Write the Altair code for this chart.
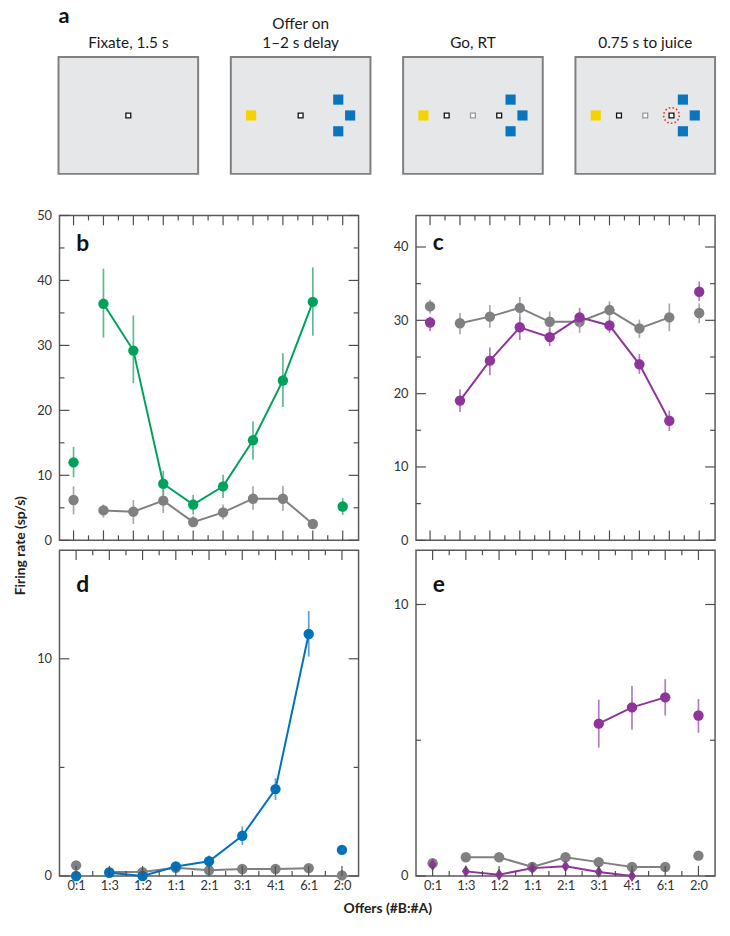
import altair as alt
import pandas as pd

FONT = "Lato"

# ---------------- data ----------------
OFFERS = ["0:1", "1:3", "1:2", "1:1", "2:1", "3:1", "4:1", "6:1", "2:0"]
N_TOP = 10  # offer types of the upper session (no labels)

# panel b
B_GREEN    = [12.0, 36.4, 29.2, 8.7, 5.5, 8.3, 15.4, 24.6, 36.7, 5.2]
B_GREEN_LO = [9.7, 31.2, 24.2, 6.9, 4.0, 6.5, 12.4, 20.5, 31.5, 3.9]
B_GREEN_HI = [14.4, 41.8, 34.6, 10.7, 7.0, 10.1, 18.3, 28.8, 42.0, 6.5]
B_GRAY     = [6.2, 4.6, 4.4, 6.1, 2.8, 4.3, 6.4, 6.4, 2.5, None]
B_GRAY_LO  = [4.0, 3.5, 2.5, 4.2, 2.1, 3.2, 4.7, 4.5, 1.9, None]
B_GRAY_HI  = [8.3, 5.5, 6.2, 8.0, 3.7, 5.5, 8.3, 8.4, 3.2, None]

# panel c
C_PURPLE    = [29.7, 19.05, 24.5, 29.05, 27.7, 30.4, 29.3, 24.0, 16.3, 33.9]
C_PURPLE_LO = [28.5, 17.5, 22.5, 27.3, 26.5, 29.0, 28.3, 22.7, 14.9, 32.6]
C_PURPLE_HI = [30.5, 20.6, 26.3, 30.5, 29.0, 31.7, 30.3, 25.4, 17.7, 35.3]
C_GRAY      = [31.9, 29.6, 30.5, 31.7, 29.8, 29.8, 31.4, 28.9, 30.4, 31.0]
C_GRAY_LO   = [30.9, 28.1, 29.0, 30.1, 28.3, 28.3, 30.3, 27.6, 28.5, 29.6]
C_GRAY_HI   = [32.8, 31.0, 32.1, 33.2, 31.2, 31.2, 32.6, 30.1, 32.3, 32.3]

# panel d
D_BLUE    = [0.0, 0.15, 0.0, 0.44, 0.68, 1.85, 4.0, 11.14, 1.2]
D_BLUE_LO = [0.0, 0.05, 0.0, 0.26, 0.41, 1.43, 3.5, 10.1, 1.1]
D_BLUE_HI = [0.0, 0.25, 0.05, 0.64, 0.94, 2.28, 4.5, 12.2, 1.3]
D_GRAY    = [0.49, 0.18, 0.18, 0.38, 0.26, 0.32, 0.32, 0.36, 0.03]
D_GRAY_LO = [0.40, 0.10, 0.10, 0.28, 0.17, 0.22, 0.22, 0.26, 0.0]
D_GRAY_HI = [0.58, 0.26, 0.26, 0.48, 0.35, 0.42, 0.42, 0.46, 0.08]

# panel e
E_PURPLE    = [None, None, None, None, None, 5.61, 6.21, 6.58, 5.91]
E_PURPLE_LO = [None, None, None, None, None, 4.73, 5.39, 5.91, 5.28]
E_PURPLE_HI = [None, None, None, None, None, 6.49, 7.0, 7.25, 6.52]
E_DIAMOND    = [0.41, 0.17, 0.05, 0.29, 0.36, 0.15, 0.0, None, None]
E_DIAMOND_LO = [0.30, 0.08, 0.0, 0.19, 0.25, 0.06, 0.0, None, None]
E_DIAMOND_HI = [0.52, 0.26, 0.12, 0.39, 0.47, 0.24, 0.05, None, None]
E_GRAY    = [0.47, 0.69, 0.69, 0.33, 0.69, 0.51, 0.33, 0.33, 0.75]
E_GRAY_LO = [0.38, 0.60, 0.60, 0.24, 0.60, 0.42, 0.24, 0.24, 0.66]
E_GRAY_HI = [0.56, 0.78, 0.78, 0.42, 0.78, 0.60, 0.42, 0.42, 0.84]

# panel a: task schematic, stimulus positions relative to screen centre (deg)
FRAME_TITLES = [["Fixate, 1.5 s"], ["Offer on", "1\u20132 s delay"], ["Go, RT"],
                ["0.75 s to juice"]]
STIM_FRAME = [0,
              1, 1, 1, 1, 1,
              2, 2, 2, 2, 2, 2, 2,
              3, 3, 3, 3, 3, 3, 3, 3]
STIM_KIND = ["fix",
             "juiceA", "fix", "juiceB", "juiceB", "juiceB",
             "juiceA", "fix", "dim", "fix", "juiceB", "juiceB", "juiceB",
             "juiceA", "fix", "dim", "fix", "juiceB", "juiceB", "juiceB", "ring"]
STIM_X = [0.0,
          -10.0, 0.0, 7.6, 10.0, 7.6,
          -10.0, -5.3, 0.0, 5.3, 7.6, 10.0, 7.6,
          -10.0, -5.3, 0.0, 5.3, 7.6, 10.0, 7.6, 5.3]
STIM_Y = [0.0,
          0.0, 0.0, 3.2, 0.0, -3.2,
          0.0, 0.0, 0.0, 0.0, 3.2, 0.0, -3.2,
          0.0, 0.0, 0.0, 0.0, 3.2, 0.0, -3.2, 0.0]

# ---------------- styles / layout ----------------
GREEN, GREEN_ERR = "#00a15b", "#5dbb8d"
PURPLE, PURPLE_ERR = "#8e349a", "#b07cbd"
BLUE, BLUE_ERR = "#0071ba", "#5d9fd2"
GRAY, GRAY_ERR = "#808082", "#a8a8a8"
TICK = "#4d4d4d"
FRAME = "#5a5a5a"
TL, TS = 10, 5  # tick lengths
DIAMOND = "M0,-1L0.65,0L0,1L-0.65,0Z"
W, H1, H2, HA = 302, 328, 329, 150
FRAME_CENTER = [0.0, 34.8, 69.6, 104.4]   # schematic units (5 px each)
BOX_HW, BOX_HH = 14.1, 11.8
TITLE_LH = 19  # px
TITLE_FS = 15.5


def series_df(vals, lo, hi):
    n = len(vals)
    rows = []
    for i, v in enumerate(vals):
        if v is None:
            continue
        rows.append(dict(idx=i, val=v, lo=lo[i], hi=hi[i], line=(i != 0 and i != n - 1)))
    return pd.DataFrame(rows)


def panel(series, ncat, xleft, ydom, ymajor, yminor, H, letter, letter_y,
          labels=None, ytitle=None, xtitle=None):
    xs = alt.Scale(domain=[-xleft, ncat - xleft], nice=False, zero=False)
    ys = alt.Scale(domain=ydom, nice=False, zero=False)
    ykw = dict(values=ymajor, ticks=False, domain=False, grid=False, labelPadding=8,
               labelFontSize=13, labelColor="#333333", labelFont=FONT, format="d")
    if ytitle:
        ykw.update(title=ytitle, titleX=-32, titleY=H + 5, titleAngle=270,
                   titleAlign="center", titleBaseline="bottom", titleFont=FONT,
                   titleFontSize=14, titleFontWeight="bold", titleColor="#222222")
    else:
        ykw.update(title=None)
    yaxis = alt.Axis(**ykw)
    if labels:
        arr = "[" + ",".join("'%s'" % s for s in labels) + "]"
        xkw = dict(values=list(range(ncat)), labelExpr=arr + "[datum.value]", ticks=False,
                   domain=False, grid=False, labelPadding=4, labelFontSize=13,
                   labelColor="#333333", labelFont=FONT, labelFlush=False)
        if xtitle:
            xkw.update(title=xtitle, titleX=W + 29, titleY=26, titleAlign="center",
                       titleBaseline="top", titleFont=FONT, titleFontSize=14,
                       titleFontWeight="bold", titleColor="#222222")
        else:
            xkw.update(title=None)
        xaxis = alt.Axis(**xkw)
    else:
        xaxis = None

    def X():
        return alt.X("idx:Q", scale=xs, axis=xaxis)

    def Y(f):
        return alt.Y(f + ":Q", scale=ys, axis=yaxis)

    layers = []
    for vals, lo, hi, col, ecol, shape, size in series:
        df = series_df(vals, lo, hi)
        base = alt.Chart(df)
        layers.append(base.mark_rule(color=ecol, strokeWidth=1.7).encode(
            x=X(), y=Y("lo"), y2="hi:Q"))
        layers.append(base.transform_filter("datum.line").mark_line(
            color=col, strokeWidth=2).encode(x=X(), y=Y("val")))
        layers.append(base.mark_point(filled=True, opacity=1, color=col, shape=shape,
                                      size=size).encode(x=X(), y=Y("val")))

    ymaj = alt.Chart(pd.DataFrame({"val": ymajor}))
    ymin = alt.Chart(pd.DataFrame({"val": yminor}))
    xmaj = alt.Chart(pd.DataFrame({"idx": list(range(ncat))}))
    xmin = alt.Chart(pd.DataFrame({"idx": [i + 0.5 for i in range(ncat - 1)]}))
    rk = dict(color=TICK, strokeWidth=1.2)
    layers += [
        ymaj.mark_rule(**rk).encode(y=Y("val"), x=alt.value(0), x2=alt.value(TL)),
        ymaj.mark_rule(**rk).encode(y=Y("val"), x=alt.value(W - TL), x2=alt.value(W)),
        ymin.mark_rule(**rk).encode(y=Y("val"), x=alt.value(0), x2=alt.value(TS)),
        ymin.mark_rule(**rk).encode(y=Y("val"), x=alt.value(W - TS), x2=alt.value(W)),
        xmaj.mark_rule(**rk).encode(x=X(), y=alt.value(0), y2=alt.value(TL)),
        xmaj.mark_rule(**rk).encode(x=X(), y=alt.value(H - TL), y2=alt.value(H)),
        xmin.mark_rule(**rk).encode(x=X(), y=alt.value(0), y2=alt.value(TS)),
        xmin.mark_rule(**rk).encode(x=X(), y=alt.value(H - TS), y2=alt.value(H)),
    ]
    layers.append(alt.Chart(pd.DataFrame({"t": [letter]})).mark_text(
        align="left", baseline="alphabetic", font=FONT, fontSize=23, fontWeight="bold",
        color="#111111").encode(text="t:N", x=alt.value(17), y=alt.value(letter_y)))
    return alt.layer(*layers).properties(
        width=W, height=H,
        view=alt.ViewBackground(fill="white", stroke=FRAME, strokeWidth=1.5))


pb = panel([(B_GRAY, B_GRAY_LO, B_GRAY_HI, GRAY, GRAY_ERR, "circle", 110),
            (B_GREEN, B_GREEN_LO, B_GREEN_HI, GREEN, GREEN_ERR, "circle", 110)],
           N_TOP, 0.47, [0, 50], [0, 10, 20, 30, 40, 50], [5, 15, 25, 35, 45],
           H1, "b", 36, ytitle="Firing rate (sp/s)")
pc = panel([(C_GRAY, C_GRAY_LO, C_GRAY_HI, GRAY, GRAY_ERR, "circle", 110),
            (C_PURPLE, C_PURPLE_LO, C_PURPLE_HI, PURPLE, PURPLE_ERR, "circle", 110)],
           N_TOP, 0.47, [0, 44.3], [0, 10, 20, 30, 40], [5, 15, 25, 35],
           H1, "c", 35)
pd_ = panel([(D_GRAY, D_GRAY_LO, D_GRAY_HI, GRAY, GRAY_ERR, "circle", 110),
             (D_BLUE, D_BLUE_LO, D_BLUE_HI, BLUE, BLUE_ERR, "circle", 110)],
            len(OFFERS), 0.5, [0, 15], [0, 10], [5],
            H2, "d", 42, labels=OFFERS, xtitle="Offers (#B:#A)")
pe = panel([(E_GRAY, E_GRAY_LO, E_GRAY_HI, GRAY, GRAY_ERR, "circle", 110),
            (E_DIAMOND, E_DIAMOND_LO, E_DIAMOND_HI, PURPLE, PURPLE_ERR, DIAMOND, 150),
            (E_PURPLE, E_PURPLE_LO, E_PURPLE_HI, PURPLE, PURPLE_ERR, "circle", 110)],
           len(OFFERS), 0.5, [0, 12], [0, 10], [5],
           H2, "e", 42, labels=OFFERS)

# ---------------- panel a (two halves, frames 0-1 and 2-3) ----------------
frames = pd.DataFrame({"frame": list(range(4)), "cx": FRAME_CENTER})
frames["x0"] = frames["cx"] - BOX_HW
frames["x1"] = frames["cx"] + BOX_HW
frames["y0"] = -BOX_HH
frames["y1"] = BOX_HH

title_rows = []
for f, lines in enumerate(FRAME_TITLES):
    n = len(lines)
    for k, line in enumerate(lines):
        title_rows.append(dict(frame=f, cx=FRAME_CENTER[f], text=line,
                               ty=BOX_HH + 1.2 + (n - 1 - k) * TITLE_LH / 5.0))
titles = pd.DataFrame(title_rows)

stim = pd.DataFrame({"frame": STIM_FRAME, "kind": STIM_KIND, "dx": STIM_X, "y": STIM_Y})
stim["x"] = [FRAME_CENTER[f] + dx for f, dx in zip(STIM_FRAME, STIM_X)]


def half(frame_ids, xdom):
    sx = alt.Scale(domain=xdom, nice=False, zero=False)
    sy = alt.Scale(domain=[-18.2, 11.8], nice=False, zero=False)
    sel = alt.FieldOneOfPredicate(field="frame", oneOf=frame_ids)
    fr = alt.Chart(frames).transform_filter(sel)
    tt = alt.Chart(titles).transform_filter(sel)
    st = alt.Chart(stim).transform_filter(sel)
    enc = dict(x=alt.X("x:Q", scale=sx, axis=None), y=alt.Y("y:Q", scale=sy, axis=None))
    layers = [
        fr.mark_rect(fill="#e6e7e8", stroke="#808080", strokeWidth=2).encode(
            x=alt.X("x0:Q", scale=sx, axis=None), x2="x1:Q",
            y=alt.Y("y0:Q", scale=sy, axis=None), y2="y1:Q"),
        tt.mark_text(align="center", baseline="bottom", font=FONT, fontSize=TITLE_FS,
                     color="#1a1a1a").encode(
            x=alt.X("cx:Q", scale=sx, axis=None), y=alt.Y("ty:Q", scale=sy, axis=None),
            text="text:N"),
        st.transform_filter(alt.datum.kind == "juiceA").mark_square(
            size=105, color="#f6d200", opacity=1).encode(**enc),
        st.transform_filter(alt.datum.kind == "juiceB").mark_square(
            size=105, color="#0a74bd", opacity=1).encode(**enc),
        st.transform_filter(alt.datum.kind == "fix").mark_point(
            shape="square", size=24, fill="white", stroke="#111111", strokeWidth=1.3,
            opacity=1).encode(**enc),
        st.transform_filter(alt.datum.kind == "dim").mark_point(
            shape="square", size=24, fill="white", stroke="#9a9a9a", strokeWidth=1.3,
            opacity=1).encode(**enc),
        st.transform_filter(alt.datum.kind == "ring").mark_point(
            shape="circle", size=250, filled=False, stroke="#e0352b", strokeWidth=1.6,
            strokeDash=[1.6, 2.2], opacity=1).encode(**enc),
    ]
    if 0 in frame_ids:
        layers.append(alt.Chart(pd.DataFrame({"t": ["a"]})).mark_text(
            align="left", baseline="alphabetic", font=FONT, fontSize=22,
            fontWeight="bold", color="#111111").encode(
            text="t:N", x=alt.value(-1), y=alt.value(-34)))
    return alt.layer(*layers).properties(
        width=W, height=HA,
        view=alt.ViewBackground(strokeWidth=0, stroke="transparent"))


a_left = half([0, 1], [-13.9, 46.5])
a_right = half([2, 3], [58.1, 118.5])

chart = alt.concat(
    a_left, a_right, pb, pc, pd_, pe,
    columns=2, spacing={"row": 10, "column": 58}, bounds="flush", align="each",
).properties(
    padding={"left": 5, "top": -7, "right": 5, "bottom": 5},
    background="white",
).configure(font=FONT)

chart.save("out.html", embed_options={"renderer": "svg", "actions": False})
